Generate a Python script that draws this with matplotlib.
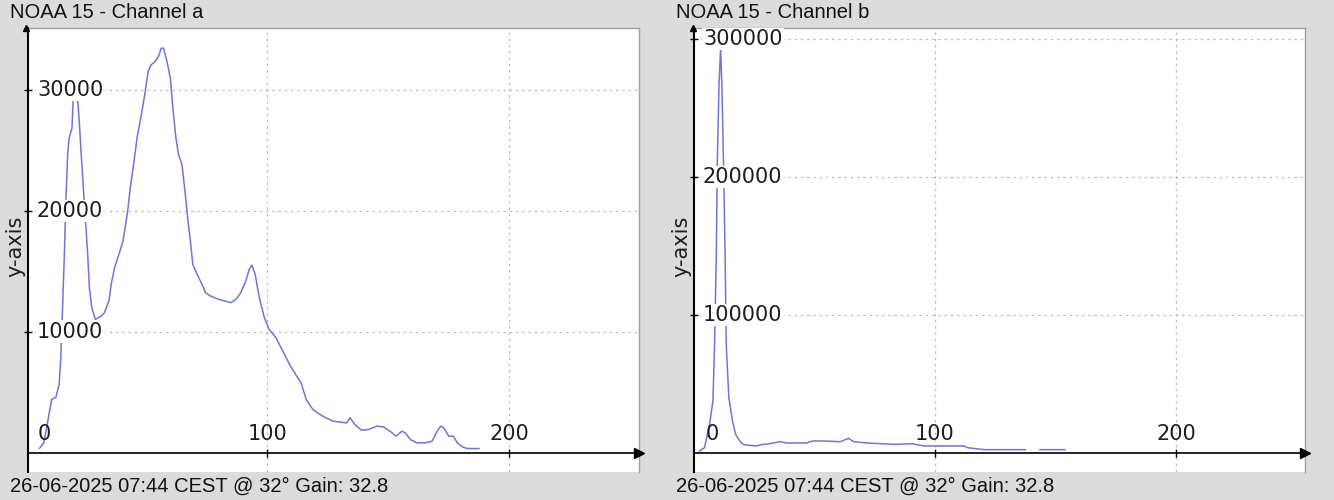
import numpy as np
import matplotlib
matplotlib.use('Agg')
from matplotlib import pyplot as plt

# channel a histogram
a_x = [5.8, 7.6, 9.7, 10.8, 12.5, 13.9, 14.6, 15.3, 16.0, 16.7, 17.4, 18.0, 19.2, 19.7,
       20.4, 21.0, 21.5, 22.2, 22.9, 23.9, 24.7, 25.7, 26.4, 27.4, 28.9, 31.3, 32.6,
       34.5, 35.4, 36.8, 38.6, 40.3, 41.4, 42.4, 43.3, 44.5, 46.1, 47.9, 49.3, 50.7,
       51.9, 53.6, 55.0, 56.1, 57.1, 58.5, 59.9, 60.8, 62.2, 63.3, 64.7, 66.1, 67.2,
       68.2, 69.2, 71.0, 73.0, 74.5, 76.5, 80.0, 82.8, 84.9, 87.0, 89.0, 91.1, 92.5,
       93.6, 95.0, 96.7, 98.8, 100.8, 103.6, 106.4, 109.2, 110.5, 114.0, 116.1, 118.9,
       123.0, 127.2, 132.8, 134.2, 136.3, 139.0, 141.8, 145.3, 148.0, 150.8, 153.3,
       155.7, 157.1, 159.2, 161.9, 165.4, 168.2, 170.3, 171.7, 173.0, 175.1, 177.0,
       178.6, 180.7, 182.8, 187.6]
a_y = [355, 826, 3165, 4400, 4545, 5645, 8000, 12000, 16100, 21000, 24650, 26000, 26860, 29340,
       30300, 30300, 29340, 27440, 25070, 21900, 19420, 16390, 13640, 11980, 11020, 11300, 11570,
       12560, 13900, 15290, 16390, 17500, 18870, 20250, 21900, 23550, 26030, 27960, 29610, 31540,
       32090, 32370, 32780, 33470, 33470, 32370, 30990, 28790, 26030, 24650, 23830, 21350, 19150,
       17500, 15560, 14740, 13910, 13220, 12950, 12670, 12530, 12400, 12670, 13220, 14190, 15150,
       15510, 14740, 12810, 11160, 10190, 9500, 8400, 7300, 6860, 5760, 4380, 3550,
       3000, 2590, 2450, 2870, 2310, 1840, 1900, 2180, 2120, 1760, 1350,
       1760, 1630, 1070, 800, 800, 940, 1760, 2180, 2040, 1350, 1350,
       800, 470, 330, 330]

# channel b histogram (nan = gap in the line)
b_x = [2.5, 4.6, 6.7, 8.1, 8.8, 9.5, 9.9, 10.6, 11.3, 11.8, 12.5, 13.2, 13.6, 14.7, 16.2,
       17.5, 19.2, 20.5, 22.0, 26.0, 28.8, 30.3, 35.9, 38.7, 47.0, 48.3, 49.8, 54.0, 60.9,
       64.3, 66.4, 71.9, 83.1, 90.7, 95.6, 112.3, 113.7, 120.6, 137.7, 140.0, 143.6, 154.0]
b_y = [1450, 3840, 20800, 37700, 81200, 144000, 209200, 266000, 293700, 266000, 209200,
       136700, 78800, 40100, 23200, 13500, 8700, 6300, 5800, 5070, 6300, 6300, 8200, 7250,
       7250, 8200, 8700, 8700, 8200, 10600, 8200, 7250, 6300, 6700, 5070, 5070, 3840, 2400,
       2400, np.nan, 2400, 2400]

a_yticks = [10000, 20000, 30000]
b_yticks = [100000, 200000, 300000]
xticks = [0, 100, 200]
titles = ['NOAA 15 - Channel a', 'NOAA 15 - Channel b']
footer = '26-06-2025 07:44 CEST @ 32\u00b0 Gain: 32.8'

W, H = 1334, 500
fig = plt.figure(figsize=(W / 100, H / 100), dpi=100)
fig.patch.set_facecolor('#dcdcdc')

panels = [
    (28, a_x, a_y, a_yticks, (1.0, 253.8), (-1614, 35140), titles[0], 10),
    (694, b_x, b_y, b_yticks, (0.25, 253.5), (-13770, 307970), titles[1], 676),
]

for left, xs, ys, yt, xlim, ylim, title, tx in panels:
    ax = fig.add_axes([left / W, 1 - 472 / H, 611 / W, 444 / H])
    ax.set_facecolor('white')
    ax.plot(xs, ys, color='#7272e0', lw=1.1, zorder=2)
    ax.set_xlim(*xlim)
    ax.set_ylim(*ylim)
    ax.set_xticks(xticks[1:])
    ax.set_yticks(yt)
    ax.grid(True, color='#bdbdbd', ls=(0, (2, 3)), lw=0.9, zorder=0)
    ax.tick_params(labelbottom=False, labelleft=False, direction='inout',
                   length=6, width=1, color='black')
    ax.spines['bottom'].set_position(('data', 0))
    ax.spines['bottom'].set_linewidth(1.2)
    ax.spines['left'].set_linewidth(1.5)
    for s in ['top', 'right']:
        ax.spines[s].set_color('#a0a0a0')
        ax.spines[s].set_linewidth(1)
    # arrow heads on the axes
    ax.plot(1, 0, '>', color='black', ms=7, transform=ax.get_yaxis_transform(), clip_on=False, zorder=5)
    ax.plot(0, 1, '^', color='black', ms=5, transform=ax.get_xaxis_transform(), clip_on=False, zorder=5)

    for v in yt:
        ax.annotate(str(v), xy=(0, v), xycoords=('axes fraction', 'data'),
                    xytext=(9, 0), textcoords='offset pixels', ha='left', va='center',
                    fontsize=15, color='#1e1e1e', zorder=4,
                    bbox=dict(boxstyle='square,pad=0.06', fc='white', ec='none'))
    for v in xticks:
        dx = 19 if v == 0 else 0
        ax.annotate(str(v), xy=(v, 0), xytext=(dx, 9), textcoords='offset pixels',
                    ha='center', va='bottom', fontsize=15, color='#1e1e1e', zorder=4,
                    annotation_clip=False)

    fig.text(tx / W, 1 - 13 / H, title, ha='left', va='center',
             fontsize=14.5, family='Liberation Sans', color='#111111')
    fig.text(tx / W, 1 - 486 / H, footer, ha='left', va='center',
             fontsize=14.5, family='Liberation Sans', color='#111111')
    fig.text((left - 13) / W, 1 - 246 / H, 'y-axis', rotation=90, ha='center', va='center',
             fontsize=15, color='#1e1e1e')

fig.savefig('out.png', dpi=100, facecolor=fig.get_facecolor())
